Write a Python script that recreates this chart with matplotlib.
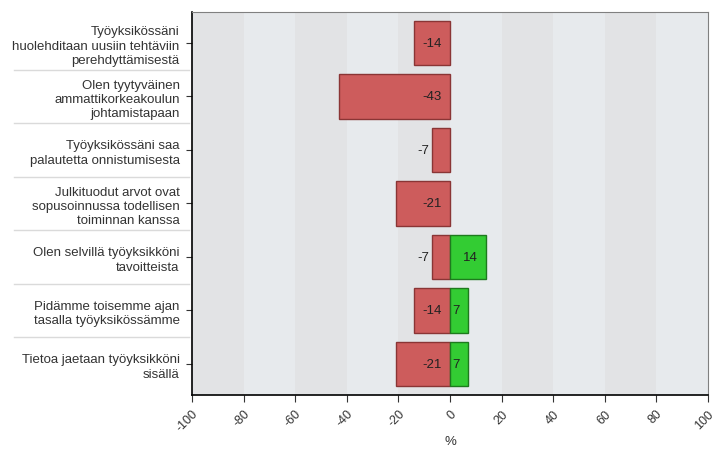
import numpy as np
import matplotlib
matplotlib.use("Agg")
import matplotlib.pyplot as plt

plt.rcParams["font.family"] = ["Liberation Sans", "DejaVu Sans"]

categories = [
    "Työyksikössäni\nhuolehditaan uusiin tehtäviin\nperehdyttämisestä",
    "Olen tyytyväinen\nammattikorkeakoulun\njohtamistapaan",
    "Työyksikössäni saa\npalautetta onnistumisesta",
    "Julkituodut arvot ovat\nsopusoinnussa todellisen\ntoiminnan kanssa",
    "Olen selvillä työyksikköni\ntavoitteista",
    "Pidämme toisemme ajan\ntasalla työyksikössämme",
    "Tietoa jaetaan työyksikköni\nsisällä",
]
negative = [-14, -43, -7, -21, -7, -14, -21]
positive = [0, 0, 0, 0, 14, 7, 7]
x_ticks = [-100, -80, -60, -40, -20, 0, 20, 40, 60, 80, 100]

text_color = "#333333"
red = "#cd5c5c"
red_edge = "#8a3535"
green = "#33cc33"
green_edge = "#1e7a1e"

fig = plt.figure(figsize=(7.22, 4.64), dpi=100)
ax = fig.add_axes([0.266, 0.147, 0.7146, 0.825])

# alternating background bands
for i, left in enumerate(x_ticks[:-1]):
    shade = "#e2e3e5" if i % 2 == 0 else "#e7eaed"
    ax.axvspan(left, left + 20, color=shade, zorder=0, lw=0)

y = np.arange(len(categories))
ax.barh(y, negative, height=0.83, color=red, edgecolor=red_edge, linewidth=1, zorder=2)
pos = np.array(positive)
mask = pos > 0
ax.barh(y[mask], pos[mask], height=0.83, color=green, edgecolor=green_edge,
        linewidth=1, zorder=2)

for yi, v in zip(y, negative):
    if abs(v) >= 10:
        ax.annotate(str(v), (0, yi), xytext=(-6, 0), textcoords="offset points",
                    ha="right", va="center", fontsize=9.5, color="#222222", zorder=3)
    else:
        ax.annotate(str(v), (v, yi), xytext=(-2, 0), textcoords="offset points",
                    ha="right", va="center", fontsize=9.5, color="#222222", zorder=3)
for yi, v in zip(y, positive):
    if v > 0:
        ax.annotate(str(v), (v, yi), xytext=(-6, 0), textcoords="offset points",
                    ha="right", va="center", fontsize=9.5, color="#222222", zorder=3)

ax.set_xlim(-100, 100)
ax.set_ylim(len(categories) - 0.42, -0.58)
ax.set_xticks(x_ticks)
ax.set_xticklabels([str(t) for t in x_ticks], rotation=45, ha="right",
                   rotation_mode="anchor", fontsize=9, color=text_color)
ax.set_yticks(y)
ax.set_yticklabels(categories, fontsize=9.5, color=text_color, linespacing=1.25)
ax.tick_params(axis="y", length=4, color="#333333", pad=5)
ax.tick_params(axis="x", length=5, color="#333333", pad=4)
ax.set_xlabel("%", fontsize=9.5, color=text_color, labelpad=1)

ax.spines["left"].set_color("black")
ax.spines["bottom"].set_color("black")
ax.spines["left"].set_linewidth(1.2)
ax.spines["bottom"].set_linewidth(1.2)
ax.spines["top"].set_color("#808080")
ax.spines["right"].set_color("#808080")

# separator lines between category labels
for yi in y[:-1]:
    yb = yi + 0.5
    ax.plot([-0.345, -0.005], [yb, yb], transform=ax.get_yaxis_transform(),
            color="#dadada", lw=1, clip_on=False)

fig.savefig("out.png", dpi=100)
